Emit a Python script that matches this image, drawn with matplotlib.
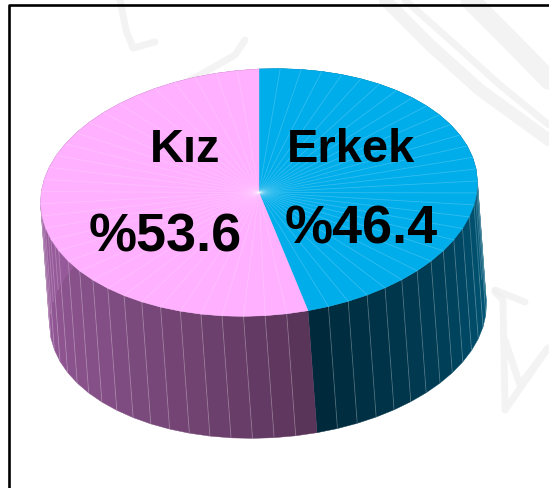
import numpy as np
import matplotlib
matplotlib.use("Agg")
import matplotlib.pyplot as plt
from matplotlib.colors import to_rgb
from matplotlib.patches import Polygon

categories = ["Erkek", "Kız"]
shares = [46.4, 53.6]
share_labels = ["%46.4", "%53.6"]

# drawing geometry, in reference pixels
W, H = 549, 488
CX, CY, RX, RY = 259, 192.5, 218.5, 123.5
SHIFT_X, DEPTH = 9, 122
TILT = 0.044
FACET_DEG = 5.6
top_colors = ["#00adeb", "#ffb0ff"]
side_stops = [
    [(0, "#006a8e"), (90, "#005a7a"), (125, "#003f58"), (167, "#00283a")],
    [(167, "#583358"), (190, "#6a3f6a"), (225, "#824e84"), (270, "#965a9a"), (360, "#965a9a")],
]
label_pos = [(350.5, 150), (185.5, 150)]
value_pos = [(361, 229), (165, 238)]
label_px, value_px = 47, 54

plt.rcParams["font.family"] = ["Liberation Sans", "DejaVu Sans"]
fig = plt.figure(figsize=(W / 100, H / 100), dpi=100)
ax = fig.add_axes([0, 0, 1, 1])
ax.set_xlim(0, W)
ax.set_ylim(H, 0)
ax.axis("off")


def top_pt(a):
    r = np.radians(a)
    dx = RX * np.sin(r)
    return CX + dx, CY - RY * np.cos(r) - TILT * dx


def bot_pt(a):
    x, y = top_pt(a)
    return x + SHIFT_X, y + DEPTH


# faint watermark behind the chart
wm = dict(color="#eef0ee", solid_capstyle="round", zorder=1)
for xs, ys, lw in [
    ([385, 430, 480, 549], [0, 45, 90, 140], 9),
    ([405, 450, 500, 549], [0, 40, 85, 125], 5),
    ([470, 510, 549], [0, 40, 80], 14),
    ([120, 126, 133, 155], [0, 30, 48, 42], 5),
    ([245, 235, 200, 170], [40, 55, 75, 90], 5),
    ([495, 503, 505, 548, 520, 505], [292, 300, 410, 348, 385, 340], 5),
    ([495, 525], [290, 302], 5),
]:
    ax.plot(xs, ys, lw=lw, alpha=0.75, **wm)

# frame
ax.plot([8.5, 8.5, W], [H, 5, 5], color="black", lw=1.9, zorder=2)

# slice angles come from the shares, clockwise from the top
edges = np.concatenate([[0], np.cumsum(shares)]) / sum(shares) * 360

for i in range(len(shares)):
    a0, a1 = edges[i], edges[i + 1]
    n = max(int(round((a1 - a0) / FACET_DEG)), 1)
    angs = np.linspace(a0, a1, n + 1)
    stops = side_stops[i]
    sa = [s[0] for s in stops]
    sc = np.array([to_rgb(s[1]) for s in stops])
    # side wall
    for p, q in zip(angs[:-1], angs[1:]):
        mid = (p + q) / 2
        col = [np.interp(mid, sa, sc[:, k]) for k in range(3)]
        ax.add_patch(Polygon([top_pt(p), top_pt(q), bot_pt(q), bot_pt(p)], closed=True,
                             fc=col, ec=col, lw=0.3, zorder=3))
    for p in angs[1:-1]:
        if np.cos(np.radians(p)) < 0.3:
            t, b = top_pt(p), bot_pt(p)
            ax.plot([t[0], b[0]], [t[1], b[1]], color="white", lw=0.6, alpha=0.25, zorder=4)

for i in range(len(shares)):
    a0, a1 = edges[i], edges[i + 1]
    n = max(int(round((a1 - a0) / FACET_DEG)), 1)
    angs = np.linspace(a0, a1, n + 1)
    # top face
    ax.add_patch(Polygon([(CX, CY)] + [top_pt(a) for a in angs], closed=True,
                         fc=top_colors[i], ec=top_colors[i], lw=0.3, zorder=5))
    for p in angs[1:-1]:
        t = top_pt(p)
        ax.plot([CX, t[0]], [CY, t[1]], color="white", lw=0.6, alpha=0.2, zorder=6)

for name, val, lp, vp in zip(categories, share_labels, label_pos, value_pos):
    ax.text(*lp, name, fontsize=label_px * 0.72, fontweight="bold", color="black",
            ha="center", va="center", zorder=8)
    ax.text(*vp, val, fontsize=value_px * 0.72, fontweight="bold", color="black",
            ha="center", va="center", zorder=8)

fig.savefig("out.png", dpi=100)
